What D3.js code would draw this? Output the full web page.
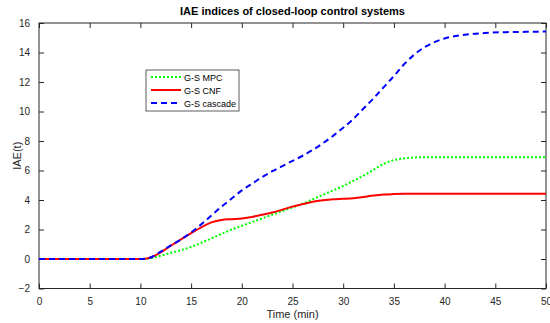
<!DOCTYPE html>
<html>
<head>
<meta charset="utf-8">
<script src="https://cdn.jsdelivr.net/npm/d3@7"></script>
<style>
  body { margin: 0; background: #fff; }
  text { font-family: "Liberation Sans", Arial, sans-serif; }
</style>
</head>
<body>
<svg id="chart"></svg>
<script>
var width = 550;
var height = 323;

var time = [0, 5, 10, 10.5, 11, 12, 13, 14, 15, 16, 17, 18, 19, 20, 21, 22, 23, 24, 25,
  26, 27, 28, 29, 30, 31, 32, 33, 34, 35, 36, 37, 38, 39, 40, 42, 44, 46, 48, 50];

var mpc = [0, 0, 0, 0.01, 0.05, 0.22, 0.42, 0.6, 0.82, 1.1, 1.4, 1.7, 2.0, 2.25, 2.5, 2.75, 3.0, 3.25, 3.5,
  3.75, 4.05, 4.35, 4.65, 4.95, 5.3, 5.65, 6.05, 6.45, 6.7, 6.82, 6.88, 6.9, 6.9, 6.9, 6.9, 6.9, 6.9, 6.9, 6.9];

var cnf = [0, 0, 0, 0.02, 0.1, 0.45, 0.9, 1.33, 1.75, 2.15, 2.48, 2.65, 2.7, 2.75, 2.85, 3.0, 3.15, 3.35, 3.55,
  3.72, 3.88, 3.98, 4.05, 4.08, 4.12, 4.2, 4.3, 4.37, 4.4, 4.42, 4.43, 4.43, 4.43, 4.43, 4.43, 4.43, 4.43, 4.43, 4.43];

var cascade = [0, 0, 0, 0.02, 0.1, 0.5, 0.92, 1.32, 1.8, 2.35, 2.95, 3.55, 4.1, 4.65, 5.1, 5.55, 5.95, 6.3, 6.65,
  7.0, 7.4, 7.85, 8.35, 8.9, 9.5, 10.2, 10.9, 11.65, 12.4, 13.2, 13.85, 14.35, 14.7, 14.95, 15.2, 15.32, 15.38, 15.4, 15.42];

var xTicks = d3.range(0, 51, 5);
var yTicks = d3.range(-2, 17, 2);

var series = [
  {name: 'G-S MPC', values: mpc, color: '#00ff00', dash: '2,2'},
  {name: 'G-S CNF', values: cnf, color: '#ff0000', dash: null},
  {name: 'G-S cascade', values: cascade, color: '#0000ff', dash: '6,4'}
];

var plotLeft = 39, plotRight = 546, plotTop = 23, plotBottom = 288.5;
var axisColor = '#262626';

var svg = d3.select('#chart')
    .attr('width', width)
    .attr('height', height);

var xScale = d3.scaleLinear()
    .domain([0, 50])
    .range([plotLeft, plotRight]);

var yScale = d3.scaleLinear()
    .domain([-2, 16])
    .range([plotBottom, plotTop]);

// axes, ticks pointing inward like matlab
function styleAxis(g) {
  g.select('.domain').remove();
  g.selectAll('line').attr('stroke', axisColor);
  g.selectAll('text').attr('fill', axisColor).attr('font-size', 10);
}

svg.append('g')
    .attr('transform', 'translate(0,' + plotBottom + ')')
    .call(d3.axisBottom(xScale).tickValues(xTicks).tickSizeInner(-5).tickSizeOuter(0).tickPadding(9))
    .call(styleAxis);

svg.append('g')
    .attr('transform', 'translate(0,' + plotTop + ')')
    .call(d3.axisTop(xScale).tickValues(xTicks).tickSizeInner(-5).tickSizeOuter(0).tickFormat(''))
    .call(styleAxis);

svg.append('g')
    .attr('transform', 'translate(' + plotLeft + ',0)')
    .call(d3.axisLeft(yScale).tickValues(yTicks).tickSizeInner(-5).tickSizeOuter(0).tickPadding(9))
    .call(styleAxis);

svg.append('g')
    .attr('transform', 'translate(' + plotRight + ',0)')
    .call(d3.axisRight(yScale).tickValues(yTicks).tickSizeInner(-5).tickSizeOuter(0).tickFormat(''))
    .call(styleAxis);

svg.append('rect')
    .attr('x', plotLeft)
    .attr('y', plotTop)
    .attr('width', plotRight - plotLeft)
    .attr('height', plotBottom - plotTop)
    .attr('fill', 'none')
    .attr('stroke', axisColor)
    .attr('stroke-width', 1);

var line = d3.line()
    .x(function(d) { return xScale(d[0]); })
    .y(function(d) { return yScale(d[1]); })
    .curve(d3.curveMonotoneX);

series.forEach(function(s) {
  svg.append('path')
      .datum(time.map(function(t, i) { return [t, s.values[i]]; }))
      .attr('d', line)
      .attr('fill', 'none')
      .attr('stroke', s.color)
      .attr('stroke-width', 2)
      .attr('stroke-dasharray', s.dash);
});

// title and labels
svg.append('text')
    .attr('x', (plotLeft + plotRight) / 2)
    .attr('y', 15)
    .attr('text-anchor', 'middle')
    .attr('font-size', 11)
    .attr('font-weight', 'bold')
    .attr('fill', '#000')
    .text('IAE indices of closed-loop control systems');

svg.append('text')
    .attr('x', (plotLeft + plotRight) / 2)
    .attr('y', 318)
    .attr('text-anchor', 'middle')
    .attr('font-size', 11)
    .attr('fill', axisColor)
    .text('Time (min)');

svg.append('text')
    .attr('transform', 'translate(21,' + ((plotTop + plotBottom) / 2) + ') rotate(-90)')
    .attr('text-anchor', 'middle')
    .attr('font-size', 11)
    .attr('fill', axisColor)
    .text('IAE(t)');

// legend
var legend = svg.append('g').attr('transform', 'translate(146,70)');
legend.append('rect')
    .attr('width', 93)
    .attr('height', 41)
    .attr('fill', '#fff')
    .attr('stroke', axisColor)
    .attr('stroke-width', 0.75);

series.forEach(function(s, i) {
  var y = 7 + i * 13;
  legend.append('line')
      .attr('x1', 5).attr('x2', 35)
      .attr('y1', y).attr('y2', y)
      .attr('stroke', s.color)
      .attr('stroke-width', 2)
      .attr('stroke-dasharray', s.dash);
  legend.append('text')
      .attr('x', 38)
      .attr('y', y + 3.5)
      .attr('font-size', 9)
      .attr('fill', '#000')
      .text(s.name);
});
</script>
</body>
</html>
